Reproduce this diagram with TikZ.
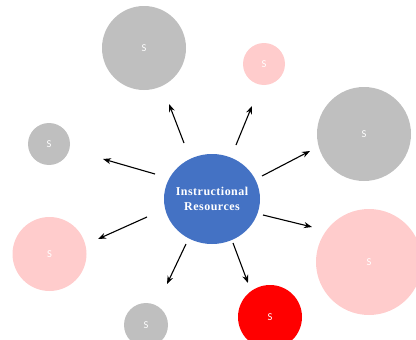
\documentclass[tikz,border=0pt]{standalone}
\usepackage{fontspec}
\setmainfont{Liberation Serif}
\newfontfamily\sfS{Carlito}
\newfontfamily\ctrfont[LetterSpace=4]{Liberation Serif}
\usetikzlibrary{arrows.meta,shapes.geometric}
\definecolor{cgray}{HTML}{BFBFBF}
\definecolor{cpink}{HTML}{FFCCCC}
\definecolor{cred}{HTML}{FF0000}
\definecolor{cblue}{HTML}{4472C4}
\tikzset{
  sat/.style={circle, inner sep=0pt, minimum size=#1, text=white, font=\sfS\fontsize{10.5}{12}\selectfont},
  arr/.style={line width=1.1pt, -{Stealth[length=8pt,width=6pt]}},
}
\begin{document}
\begin{tikzpicture}[x=1pt,y=-1pt]
\useasboundingbox (0,0) rectangle (416,340);
\node[ellipse, fill=cblue, inner xsep=-12pt, inner ysep=0pt, minimum width=96pt, minimum height=90pt, text=white, align=center,
  font=\ctrfont\bfseries\fontsize{12}{15}\selectfont] (c) at (212,199) {Instructional\\Resources};
\node[sat=84pt, fill=cgray] (s1) at (144,48) {S};
\node[sat=42pt, fill=cpink] (s2) at (264,64) {S};
\node[sat=94pt, fill=cgray] (s3) at (364,134) {S};
\node[sat=42pt, fill=cgray] (s4) at (49,144) {S};
\node[sat=74pt, fill=cpink] (s5) at (49.5,254) {S};
\node[sat=44pt, fill=cgray] (s6) at (146,325) {S};
\node[sat=64pt, fill=cred] (s7) at (270,317) {S};
\node[sat=106pt, fill=cpink] (s8) at (369,262) {S};
\coordinate (t1) at (184,143); \coordinate (h1) at (169,104);
\coordinate (t2) at (236,145); \coordinate (h2) at (252,106);
\coordinate (t3) at (262,176); \coordinate (h3) at (310,151);
\coordinate (t4) at (155,174); \coordinate (h4) at (103,159);
\coordinate (t5) at (147,217); \coordinate (h5) at (98,239);
\coordinate (t6) at (186,244); \coordinate (h6) at (167,284);
\coordinate (t7) at (233,243); \coordinate (h7) at (248,283);
\coordinate (t8) at (263,215); \coordinate (h8) at (312,227);
\foreach \i in {1,...,8} \draw[arr] (t\i) -- (h\i);
\end{tikzpicture}
\end{document}
